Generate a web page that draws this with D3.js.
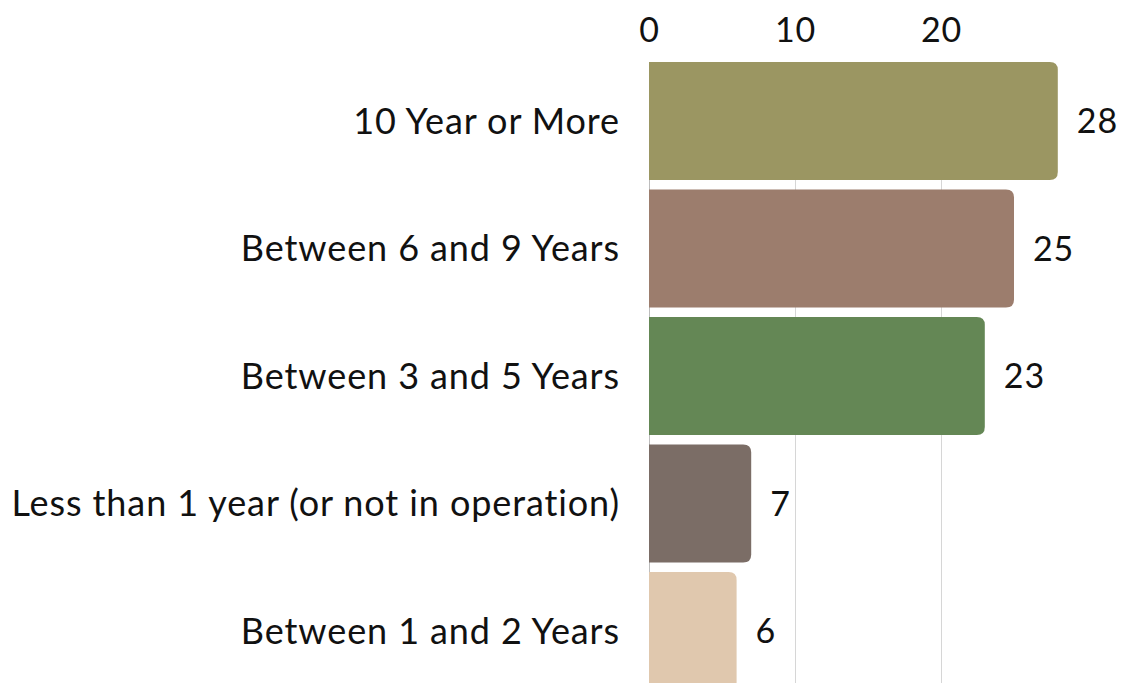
<!DOCTYPE html>
<html>
<head>
<meta charset="utf-8">
<script src="https://cdn.jsdelivr.net/npm/d3@7"></script>
<style>
  html, body { margin: 0; padding: 0; background: #fff; }
  svg { display: block; font-family: "Lato", "Noto Sans", sans-serif; }
</style>
</head>
<body>
<svg id="chart" width="1121" height="683"></svg>
<script>
// Years in operation, sorted by count
const categories = [
  "10 Year or More",
  "Between 6 and 9 Years",
  "Between 3 and 5 Years",
  "Less than 1 year (or not in operation)",
  "Between 1 and 2 Years"
];
const counts = [28, 25, 23, 7, 6];
const barColors = ["#9b9662", "#9c7d6d", "#648755", "#7b6d66", "#e0c8ae"];
const tickValues = [0, 10, 20];

const svg = d3.select("#chart");
const W = 1121, H = 683;
const FONT = 36;
const SPACING = 0.9;

const x = d3.scaleLinear().domain([0, 10]).range([649, 795]);
const y = d3.scaleBand().domain(categories).range([62, 690]).paddingInner(0.075).paddingOuter(0);

// vertical gridlines
svg.append("g")
  .selectAll("line")
  .data(tickValues)
  .join("line")
  .attr("x1", d => x(d) + 0.5)
  .attr("x2", d => x(d) + 0.5)
  .attr("y1", 62)
  .attr("y2", H)
  .attr("stroke", d => d === 0 ? "#bdbdbd" : "#d6d6d6")
  .attr("stroke-width", 1);

// top axis tick labels
const axis = d3.axisTop(x).tickValues(tickValues).tickSize(0).tickPadding(0);
const gAxis = svg.append("g").attr("transform", "translate(0,42)").call(axis);
gAxis.select(".domain").remove();
gAxis.selectAll("text")
  .attr("font-family", "Lato, 'Noto Sans', sans-serif")
  .attr("font-size", 34)
  .attr("letter-spacing", SPACING)
  .attr("dy", 0)
  .attr("fill", "#111");

// bars with rounded right ends
const r = 8;
function barPath(x0, x1, y0, h) {
  const rr = Math.min(r, (x1 - x0) / 2, h / 2);
  return `M${x0},${y0}H${x1 - rr}Q${x1},${y0} ${x1},${y0 + rr}` +
         `V${y0 + h - rr}Q${x1},${y0 + h} ${x1 - rr},${y0 + h}H${x0}Z`;
}

const rows = categories.map((c, i) => ({ cat: c, val: counts[i], color: barColors[i] }));

svg.append("g")
  .selectAll("path")
  .data(rows)
  .join("path")
  .attr("d", d => barPath(x(0), x(d.val), y(d.cat), y.bandwidth()))
  .attr("fill", d => d.color);

// value labels
svg.append("g")
  .selectAll("text")
  .data(rows)
  .join("text")
  .attr("x", d => x(d.val) + 19)
  .attr("y", d => y(d.cat) + y.bandwidth() / 2)
  .attr("dy", "0.36em")
  .attr("font-size", 34)
  .attr("letter-spacing", SPACING)
  .attr("fill", "#111")
  .text(d => d.val);

// category labels
svg.append("g")
  .selectAll("text")
  .data(rows)
  .join("text")
  .attr("x", 620)
  .attr("y", d => y(d.cat) + y.bandwidth() / 2)
  .attr("dy", "0.36em")
  .attr("text-anchor", "end")
  .attr("font-size", FONT)
  .attr("letter-spacing", SPACING)
  .attr("fill", "#111")
  .text(d => d.cat);
</script>
</body>
</html>
